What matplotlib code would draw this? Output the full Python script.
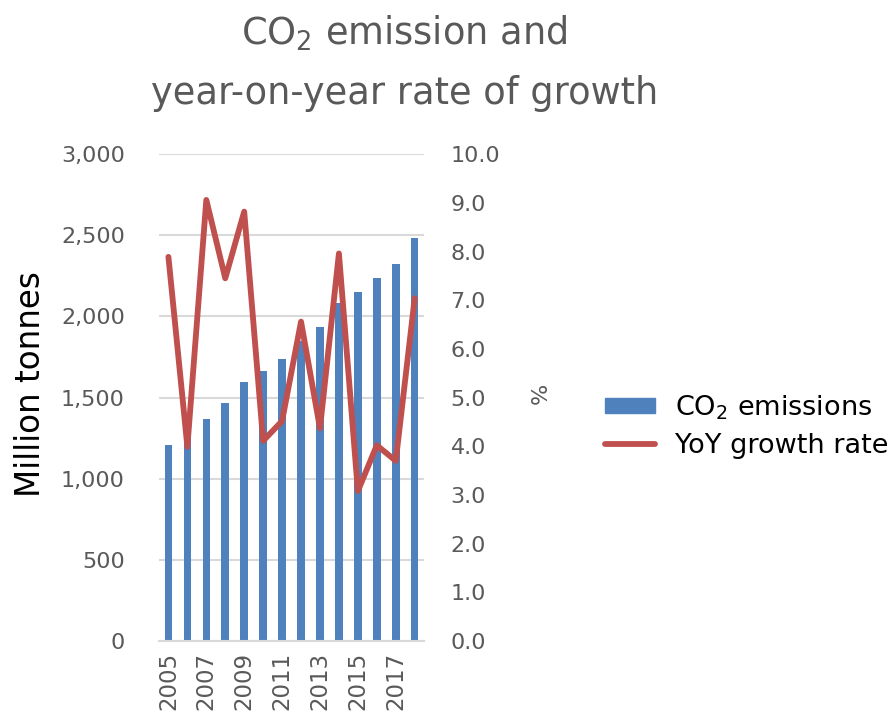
import matplotlib
matplotlib.use("Agg")
import matplotlib.pyplot as plt
from matplotlib.patches import Patch
from matplotlib.lines import Line2D

years = list(range(2005, 2019))
emissions = [1208, 1256, 1366, 1468, 1598, 1664, 1737, 1850, 1933, 2085, 2150, 2237, 2321, 2483]
growth = [7.89, 3.99, 9.06, 7.45, 8.82, 4.11, 4.52, 6.56, 4.37, 7.96, 3.08, 4.02, 3.70, 7.04]
left_ticks = [0, 500, 1000, 1500, 2000, 2500, 3000]
right_ticks = [0, 1, 2, 3, 4, 5, 6, 7, 8, 9, 10]

BAR = "#4f81bd"
LINE = "#c0504d"
GREY = "#595959"
GRID = "#d9d9d9"

plt.rcParams['font.family'] = ['DejaVu Sans']
plt.rcParams['mathtext.fontset'] = 'dejavusans'

fig = plt.figure(figsize=(8.93, 7.17), dpi=100)
ax = fig.add_axes([0.178, 0.106, 0.297, 0.679])
x = list(range(len(years)))
ax.bar(x, emissions, width=0.4, color=BAR, zorder=2)
ax.set_xlim(-0.5, len(years) - 0.5)
ax.set_ylim(0, 3000)
ax.set_yticks(left_ticks)
ax.set_yticklabels([f"{v:,}" for v in left_ticks])
ax.yaxis.grid(True, color=GRID, linewidth=1.5, zorder=0)
ax.set_axisbelow(True)
for s in ['top', 'right', 'left']:
    ax.spines[s].set_visible(False)
ax.spines['bottom'].set_color(GRID)
ax.spines['bottom'].set_linewidth(1.5)
ax.tick_params(axis='y', length=0, labelsize=16, labelcolor=GREY, pad=24.5)
ax.set_xticks(x)
ax.set_xticklabels([str(y) if i % 2 == 0 else "" for i, y in enumerate(years)], rotation=90)
ax.tick_params(axis='x', length=0, labelsize=16.5, labelcolor=GREY, pad=8)
ax.set_ylabel("Million tonnes", fontsize=23.5, color="black", va='center', ha='center')
ax.yaxis.set_label_coords((31 - 159) / 265.2, (641 - 384) / 487)

ax2 = ax.twinx()
ax2.plot(x, growth, color=LINE, linewidth=4.2, solid_capstyle='round', solid_joinstyle='round', zorder=3)
ax2.set_ylim(0, 10)
ax2.set_yticks(right_ticks)
ax2.set_yticklabels([f"{v:.1f}" for v in right_ticks])
for s in ['top', 'right', 'left', 'bottom']:
    ax2.spines[s].set_visible(False)
ax2.tick_params(axis='y', length=0, labelsize=16, labelcolor=GREY, pad=19)
ax2.set_ylabel("%", fontsize=16, color=GREY, va='center', ha='center', rotation=90)
ax2.yaxis.set_label_coords((541 - 159) / 265.2, (641 - 393) / 487)

fig.text(0.453, 1 - 45 / 717, r"CO$_2$ emission and", ha='center', va='baseline', fontsize=26.5, color=GREY)
fig.text(0.453, 1 - 104 / 717, "year-on-year rate of growth", ha='center', va='baseline', fontsize=26.5, color=GREY)

handles = [Patch(facecolor=BAR, edgecolor=BAR), Line2D([0], [0], color=LINE, linewidth=4.2, solid_capstyle='round')]
labels = [r"CO$_2$ emissions", "YoY growth rate"]
fig.legend(handles, labels, loc='center left', bbox_to_anchor=(0.677, 1 - 426 / 717), frameon=False,
           fontsize=19.5, handlelength=1.85, handleheight=0.5, handletextpad=0.75, labelspacing=0.4,
           borderaxespad=0, borderpad=0)

fig.savefig("out.png", dpi=100)
